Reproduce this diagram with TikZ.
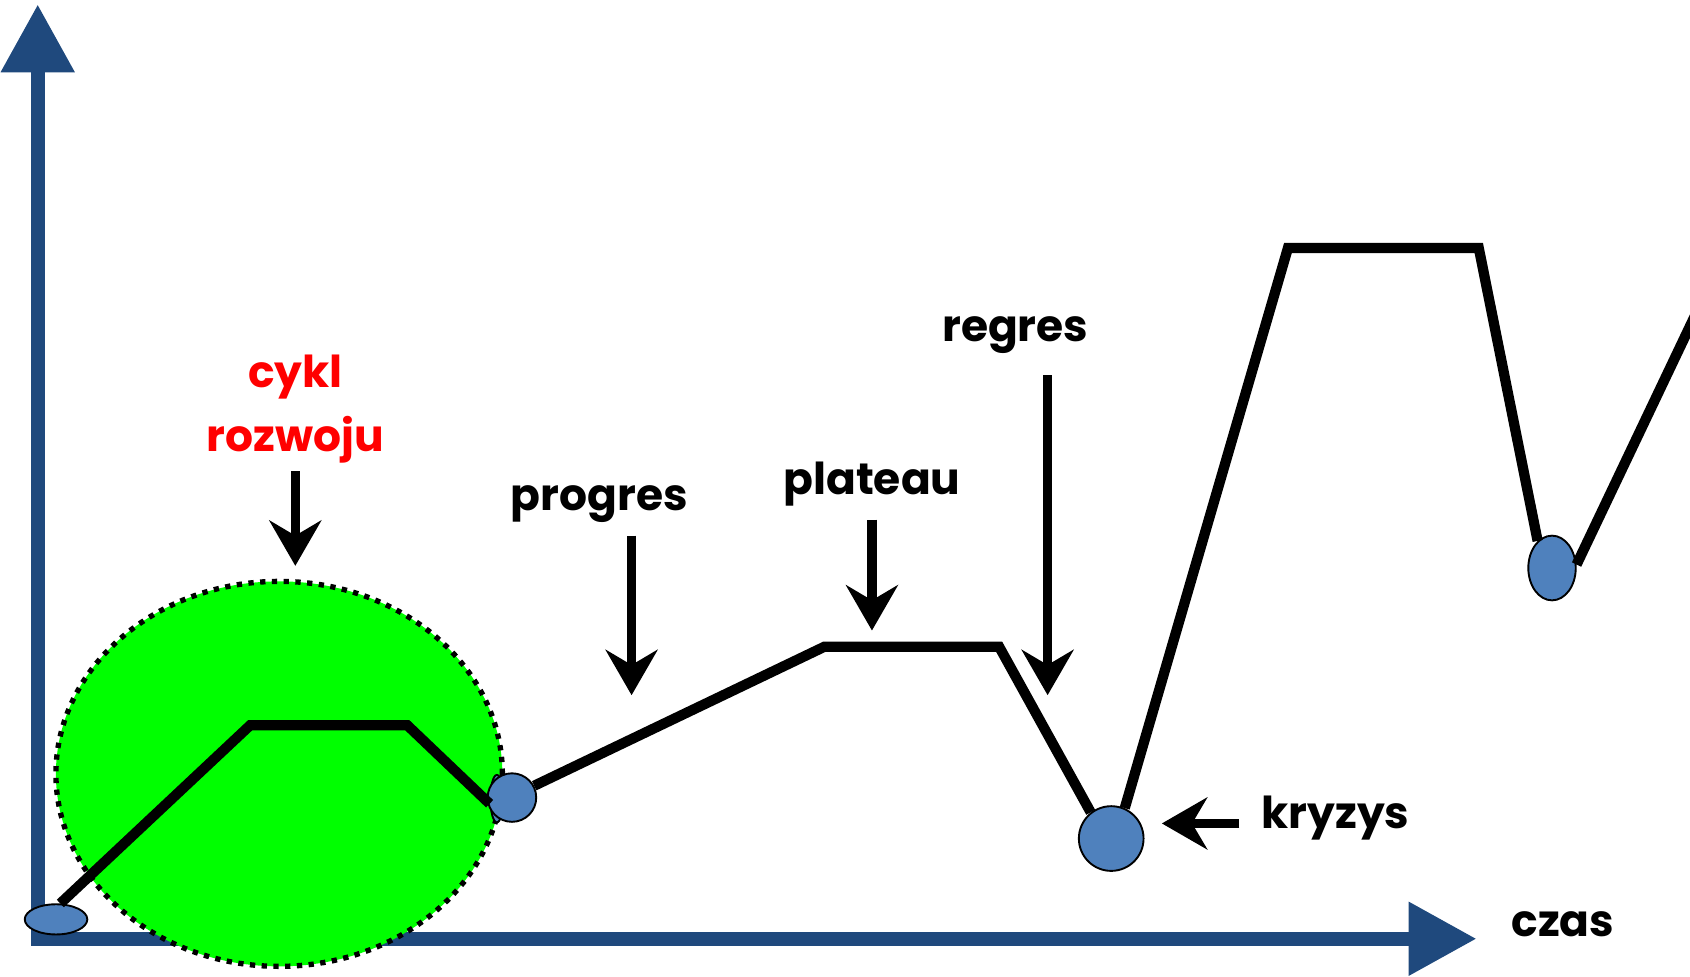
\documentclass[tikz,border=0pt]{standalone}
\usepackage{fontspec}
\setmainfont{Poppins}
\usetikzlibrary{arrows.meta,positioning,shapes.geometric}
\definecolor{axisblue}{RGB}{31,73,125}
\definecolor{dotblue}{RGB}{79,129,189}
\definecolor{cyclegreen}{RGB}{0,255,0}

\begin{document}
\begin{tikzpicture}[x=0.01cm, y=-0.01cm,
  axis/.style={axisblue, line width=3.8pt, -{Triangle[length=0.63cm, width=0.65cm]}},
  trend/.style={line width=2.7pt, line join=miter},
  dot/.style={ellipse, draw, line width=0.5pt, fill=dotblue, inner sep=0pt,
              minimum width=#1},
  lbl/.style={font=\bfseries\fontsize{11.6}{17}\selectfont, anchor=base, inner sep=0pt},
  ptr/.style={line width=2.5pt, -{Stealth[length=0.42cm, width=0.48cm, inset=0.14cm]}}]
\useasboundingbox (0,0) rectangle (1568,906);

% axes
\coordinate (origin) at (35,871);
\coordinate (ytop) at (35,4);
\coordinate (xend) at (1370,871);
\draw[axis] ([yshift=-1.8pt]origin) -- (ytop);
\draw[axis] (origin) -- (xend);
\node[lbl] (czas) at (1450,869) {czas};

% one full cycle
\node[ellipse, fill=cyclegreen, draw=black, line width=1.4pt,
      dash pattern=on 1.4pt off 1.7pt, minimum width=4.14cm, minimum height=3.57cm]
  (cykl) at (259,718) {};
\node[dot=0.58cm, minimum height=0.28cm] (o) at (52,853) {};
\node[dot=0.12cm, minimum height=0.44cm] (m1back) at (461,741) {};
\node[dot=0.45cm, minimum height=0.45cm] (m1) at (475,740) {};
\node[dot=0.6cm, minimum height=0.6cm] (crisis) at (1031,778) {};
\node[dot=0.44cm, minimum height=0.6cm] (dip) at (1440,527) {};

\draw[trend] (o.75) -- (232,673) -- (378,673) -- (m1back.215);
\draw[trend] (m1.28) -- (765,600) -- (927,600) -- (crisis.128);
\draw[trend] (crisis.66) -- (1195,230) -- (1372,230) -- (dip.118);
\draw[trend] (dip.8) -- (1574,290);

% labels
\node[lbl, red, align=center] (rozwoju) at (274,419) {cykl\\rozwoju};
\node[lbl] (progres) at (556,474) {progres};
\node[lbl] (plateau) at (809,459) {plateau};
\node[lbl] (regres) at (942,317) {regres};
\node[lbl] (kryzys) at (1239,769) {kryzys};

\coordinate (tipC) at (274,525);
\coordinate (tipP) at (586,645);
\coordinate (tipL) at (809,585);
\coordinate (tipR) at (972,645);
\coordinate (tipK) at (1078,764);
\draw[ptr] (274,437) -- (tipC);
\draw[ptr] (586,497) -- (tipP);
\draw[ptr] (809,482) -- (tipL);
\draw[ptr] (972,348) -- (tipR);
\draw[ptr] (1150,764) -- (tipK);
\end{tikzpicture}
\end{document}
